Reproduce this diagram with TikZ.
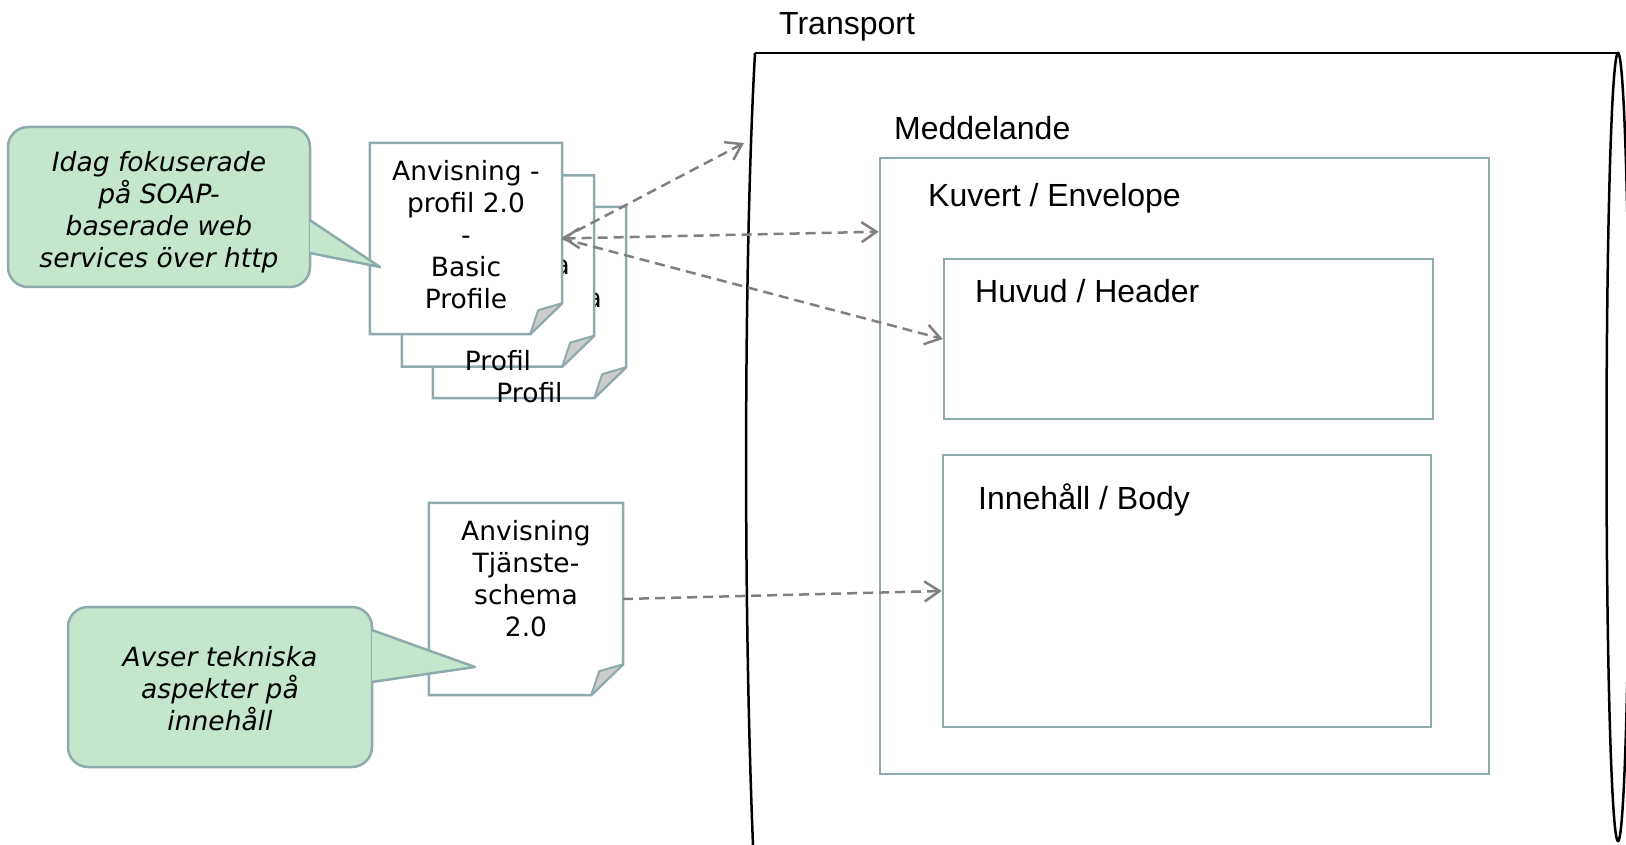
\documentclass[tikz,border=0pt]{standalone}
\usepackage{fontspec}
\setmainfont{DejaVu Sans}
\newfontfamily\arialf{Liberation Sans}
\usetikzlibrary{arrows.meta,positioning}

\definecolor{boxline}{RGB}{143,170,172}
\definecolor{notefill}{RGB}{195,230,204}
\definecolor{foldgray}{RGB}{204,204,204}
\definecolor{linkgray}{RGB}{128,128,128}

\tikzset{
  docbox/.style={draw=none, minimum width=192pt, minimum height=191pt, inner sep=0pt},
  docline/.style={draw=boxline, fill=white, line width=2.5pt},
  foldline/.style={draw=boxline, fill=foldgray, line width=2pt, line join=round},
  doctext/.style={font=\fontsize{26.5}{32}\selectfont, align=center, inner sep=0pt},
  note/.style={draw=boxline, fill=notefill, line width=2.5pt, rounded corners=20pt},
  notetip/.style={draw=boxline, fill=notefill, line width=2.5pt, line join=round},
  notetext/.style={font=\fontsize{26.5}{32}\selectfont\itshape, align=center, inner sep=0pt},
  lbl/.style={font=\arialf\fontsize{32}{38}\selectfont, inner sep=0pt},
  part/.style={draw=boxline, line width=2.5pt, inner sep=0pt},
  link/.style={draw=linkgray, line width=2.5pt, dash pattern=on 10pt off 6pt,
    -{Straight Barb[length=15pt,width=20pt]}},
}

% page with a folded corner, drawn round a docbox node
\newcommand\pagedoc[1]{%
  \filldraw[docline] (#1.north west) -- (#1.north east) -- ([yshift=31pt]#1.south east)
    -- ([xshift=-32pt]#1.south east) -- (#1.south west) -- cycle;
  \filldraw[foldline] ([yshift=31pt]#1.south east) -- ([xshift=-24pt,yshift=24pt]#1.south east)
    -- ([xshift=-32pt]#1.south east) -- cycle;}

\begin{document}
\begin{tikzpicture}[x=1pt,y=-1pt]
\useasboundingbox (0,0) rectangle (1626,845);

% transport
\draw[line width=2.5pt] (755,53) -- (1618,53);
\draw[line width=2.5pt] (755,53) .. controls (744,250) and (743,600) .. (753,845);
\draw[line width=2.5pt] (1618,447) ellipse [x radius=11.5, y radius=394];
\node[lbl, anchor=base west] (trlabel) at (779,35) {Transport};
\coordinate (trin) at (744,143);

% message
\node[part, minimum width=609pt, minimum height=616pt] (msg) at (1184.5,466) {};
\node[part, minimum width=489pt, minimum height=160pt] (header) at (1188.5,339) {};
\node[part, minimum width=488pt, minimum height=272pt] (body) at (1187,591) {};
\node[lbl, anchor=base west] (msglabel) at (894,140) {Meddelande};
\node[lbl, anchor=base west] (envlabel) at (928,207) {Kuvert / Envelope};
\node[lbl, anchor=base west] (hdrlabel) at (975,302) {Huvud / Header};
\node[lbl, anchor=base west] (bodylabel) at (978,509) {Innehåll / Body};

% profile documents
\node[docbox, minimum width=193pt] (profC) at (529.5,302.5) {};
\pagedoc{profC}
\node[doctext, anchor=base east] (profCa) at (602,307) {a};
\node[doctext, anchor=base] (profCp) at (529.5,402) {Profil};
\node[docbox] (profB) at (498,271) {};
\pagedoc{profB}
\node[doctext, anchor=base east] (profBa) at (570,275) {a};
\node[doctext, anchor=base] (profBp) at (498,370) {Profil};
\node[docbox] (profA) at (466,238.5) {};
\pagedoc{profA}
\node[doctext, below=17pt of profA.north] (profAtxt) {Anvisning -\\profil 2.0\\-\\Basic\\Profile};

% schema document
\node[docbox, minimum width=194pt, minimum height=192pt] (schema) at (526,599) {};
\pagedoc{schema}
\node[doctext, below=17pt of schema.north] (schematxt) {Anvisning\\Tjänste-\\schema\\2.0};

% notes
\node[note, minimum width=302pt, minimum height=160pt] (notesoap) at (159,207) {};
\coordinate (soaptip) at (380,267);
\filldraw[notetip] ([xshift=-1.5pt,yshift=-13pt]notesoap.east) -- (soaptip)
  -- ([xshift=-1.5pt,yshift=-46pt]notesoap.east);
\node[notetext, below=25pt of notesoap.north] (soaptxt)
  {Idag fokuserade\\på SOAP-\\baserade web\\services över http};

\node[note, minimum width=304pt, minimum height=160pt] (notebody) at (220,687) {};
\coordinate (bodytip) at (475,667);
\filldraw[notetip] ([xshift=-1.5pt,yshift=57pt]notebody.east) -- (bodytip)
  -- ([xshift=-1.5pt,yshift=5pt]notebody.east);
\node[notetext, below=40.5pt of notebody.north] (bodytxt)
  {Avser tekniska\\aspekter på\\innehåll};

% links
\draw[link] (profA.east) -- (trin);
\draw[link, {Straight Barb[length=15pt,width=20pt]}-{Straight Barb[length=15pt,width=20pt]}]
  (profA.east) -- ([yshift=-75pt]msg.north west);
\draw[link] (profA.east) -- (header.west);
\draw[link] (schema.east) -- (body.west);
\end{tikzpicture}
\end{document}
